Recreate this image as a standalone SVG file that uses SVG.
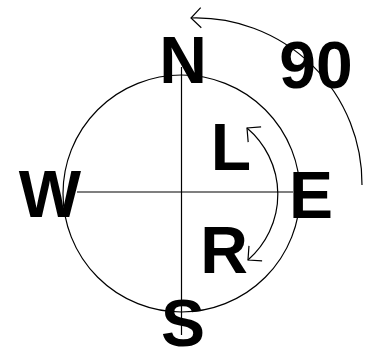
<svg xmlns="http://www.w3.org/2000/svg" width="369" height="349" viewBox="0 0 369 349">
<style>
.ln{fill:none;stroke:#000;stroke-width:1.2}
.lb{font-family:"Liberation Sans",Arial,sans-serif;font-weight:bold;font-size:66px;fill:#000;text-anchor:middle}
</style>
<defs>
<marker id="ah" viewBox="-12 -12 24 24" refX="0" refY="0" markerWidth="24" markerHeight="24" markerUnits="userSpaceOnUse" orient="auto-start-reverse" overflow="visible">
<path d="M-10,-10 L0,0 L-10,10" fill="none" stroke="#000" stroke-width="1.2"/>
</marker>
</defs>
<rect width="369" height="349" fill="#fff"/>
<g id="connectors">
<circle class="ln" cx="181.5" cy="193.5" r="118.5"/>
<line class="ln" x1="181.5" y1="67" x2="181.5" y2="335"/>
<line class="ln" x1="77" y1="192" x2="293" y2="192"/>
<path class="ln" d="M362,185 A166,166 0 0 0 191,18" marker-end="url(#ah)"/>
<path class="ln" d="M247,128 A87,87 0 0 1 248,260" marker-start="url(#ah)" marker-end="url(#ah)"/>
</g>
<g id="node-N"><text class="lb" x="183" y="83">N</text></g>
<g id="node-W"><text class="lb" x="50" y="217">W</text></g>
<g id="node-E"><text class="lb" x="311" y="218">E</text></g>
<g id="node-S"><text class="lb" x="183" y="346" font-size="64">S</text></g>
<g id="node-L"><text class="lb" x="231" y="170">L</text></g>
<g id="node-R"><text class="lb" x="224" y="273">R</text></g>
<g id="node-90"><text class="lb" x="316" y="88">90</text></g>
</svg>
